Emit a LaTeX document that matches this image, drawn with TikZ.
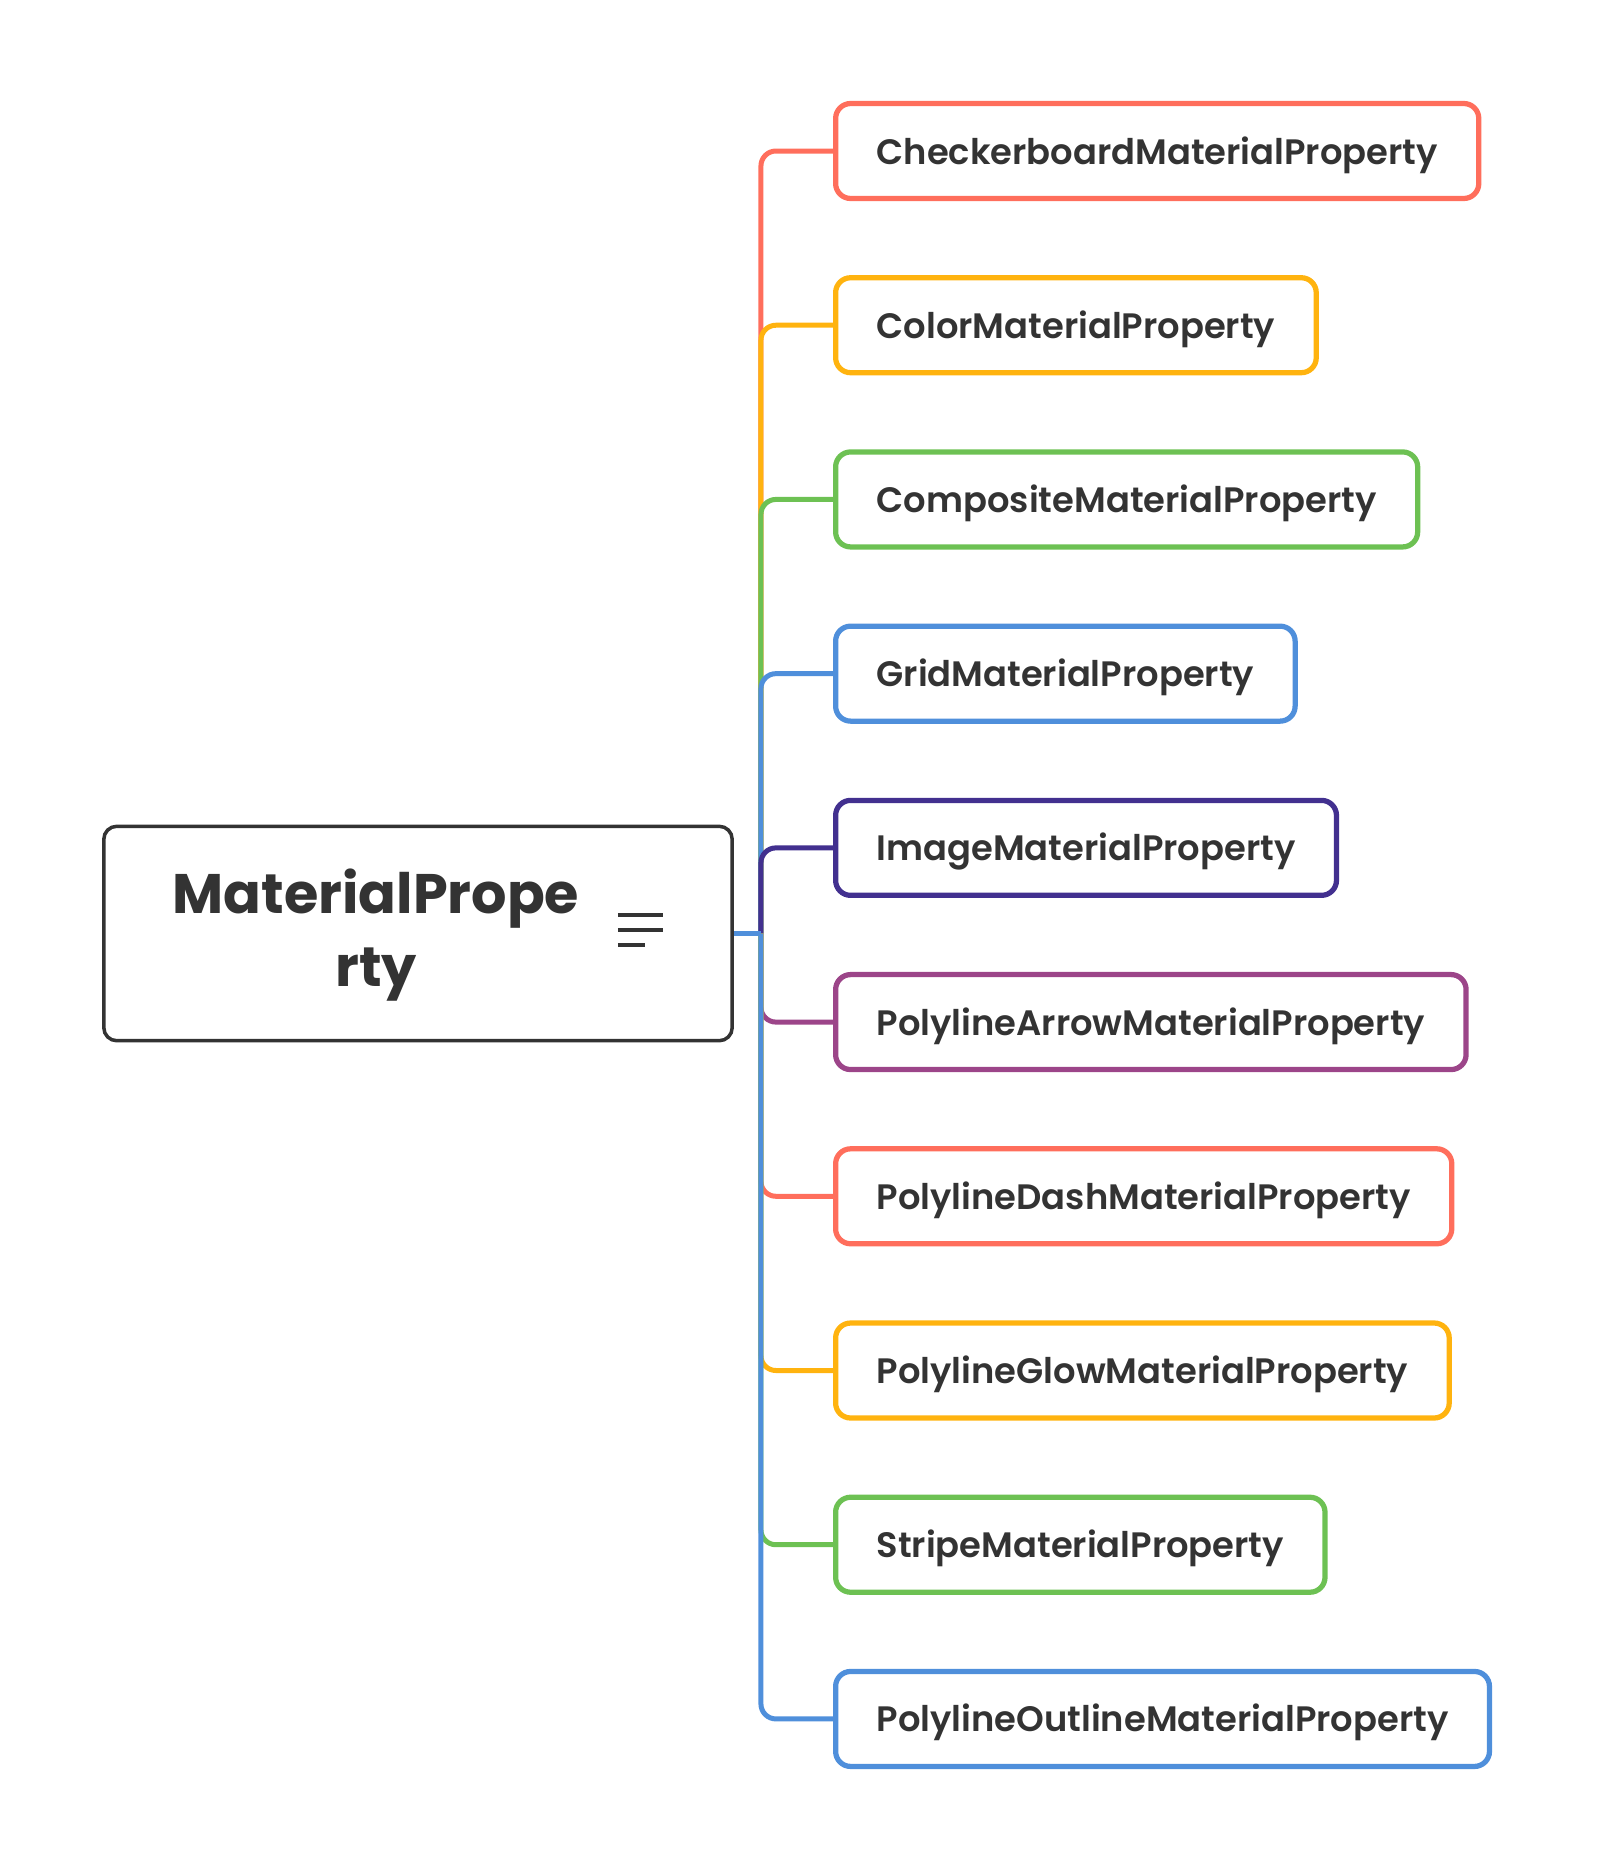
\documentclass[tikz,border=0pt]{standalone}
\usepackage{xcolor}
\usepackage{fontspec}
\setmainfont{Poppins}
\newfontfamily\leaffont{Poppins SemiBold}
\usetikzlibrary{positioning}

\definecolor{ink}{HTML}{333333}
\definecolor{cred}{HTML}{FF6E5C}
\definecolor{cyellow}{HTML}{FFB30F}
\definecolor{cgreen}{HTML}{6DC153}
\definecolor{cblue}{HTML}{4F8FDB}
\definecolor{cindigo}{HTML}{42308F}
\definecolor{cpurple}{HTML}{9C4589}

\begin{document}
\begin{tikzpicture}[
    x=0.02cm, y=-0.02cm,
    node distance=1.48cm,
    root/.style={rectangle, draw=ink, line width=0.07cm, rounded corners=0.26cm, minimum width=12.57cm, minimum height=4.29cm},
    roottext/.style={align=center, text=ink, font=\fontsize{31.7}{42}\selectfont\bfseries},
    leaf/.style={rectangle, draw, line width=0.105cm, rounded corners=0.3cm, inner xsep=0.82cm, minimum height=1.9cm,
        text height=0.52cm, text depth=0cm, text=ink, font=\fontsize{20.1}{24}\selectfont\leaffont},
    link/.style={line width=0.1cm, rounded corners=0.3cm}
]
\useasboundingbox (0,0) rectangle (1602,1866);

\node[root] (root) at (418,933.5) {};
\node[roottext] (rootlabel) at ([xshift=-0.84cm, yshift=-0.03cm]root.center) {MaterialPrope\\rty};
\foreach \dy/\len in {-0.37/0.9, -0.07/0.9, 0.23/0.54}
    \draw[ink, line width=0.08cm] ([xshift=4cm, yshift=-\dy cm]root.center) -- ++(\len cm,0);

\node[leaf, draw=cred, anchor=west] (checker) at (833,151) {CheckerboardMaterialProperty};
\node[leaf, draw=cyellow, below=of checker.south west, anchor=north west] (color) {ColorMaterialProperty};
\node[leaf, draw=cgreen, below=of color.south west, anchor=north west] (composite) {CompositeMaterialProperty};
\node[leaf, draw=cblue, below=of composite.south west, anchor=north west] (grid) {GridMaterialProperty};
\node[leaf, draw=cindigo, below=of grid.south west, anchor=north west] (image) {ImageMaterialProperty};
\node[leaf, draw=cpurple, below=of image.south west, anchor=north west] (arrow) {PolylineArrowMaterialProperty};
\node[leaf, draw=cred, below=of arrow.south west, anchor=north west] (dash) {PolylineDashMaterialProperty};
\node[leaf, draw=cyellow, below=of dash.south west, anchor=north west] (glow) {PolylineGlowMaterialProperty};
\node[leaf, draw=cgreen, below=of glow.south west, anchor=north west] (stripe) {StripeMaterialProperty};
\node[leaf, draw=cblue, below=of stripe.south west, anchor=north west] (outline) {PolylineOutlineMaterialProperty};

% branches
\coordinate (hub) at ([xshift=0.54cm]root.east);
\foreach \leafname/\col in {checker/cred, color/cyellow, composite/cgreen, grid/cblue, image/cindigo,
                            arrow/cpurple, dash/cred, glow/cyellow, stripe/cgreen, outline/cblue}
    \draw[link, \col] (hub) |- (\leafname.west);
\draw[link, cblue] (root.east) -- (hub);

\end{tikzpicture}
\end{document}
